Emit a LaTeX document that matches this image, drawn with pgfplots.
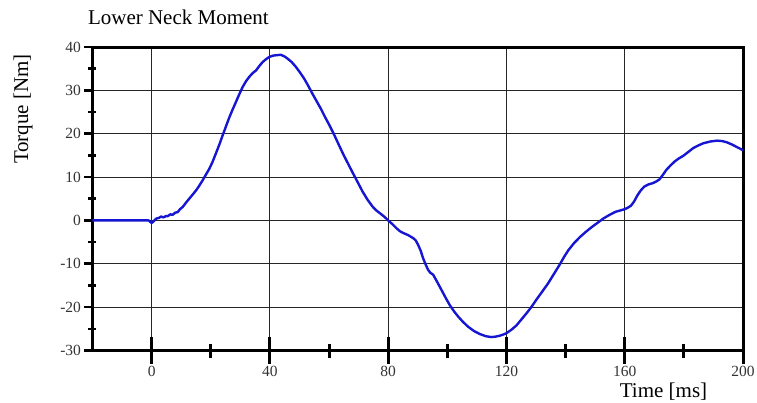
\documentclass[border=0pt]{standalone}
\usepackage{fontspec}
\setmainfont{Liberation Serif}
\usepackage{pgfplots}
\pgfplotsset{compat=1.18}
\definecolor{curve}{RGB}{22,22,210}
\newcommand{\tickfont}{\fontsize{15.5}{18}\selectfont}
\newcommand{\labelfont}{\fontsize{21}{24}\selectfont}
\begin{document}
\begin{tikzpicture}
\path[use as bounding box] (-92.5pt,-51.5pt) rectangle (664.5pt,350.5pt);
% main axis: frame, grid, y ticks, curve
\begin{axis}[
  at={(0,0)}, anchor=south west,
  scale only axis, width=650.5pt, height=303.5pt,
  xmin=-20, xmax=200, ymin=-30, ymax=40,
  xtick={0,40,...,200}, ytick={-30,-20,...,40},
  minor y tick num=1,
  grid=major,
  major grid style={draw=black!85, line width=1.1pt},
  axis line style={line width=3pt},
  x tick style={draw=none},
  xticklabels={},
  ytick pos=left,
  tick align=outside,
  major tick length=8pt, minor tick length=8pt,
  y tick style={line width=2.6pt, black},
  minor y tick style={xshift=4pt},
  /pgf/number format/assume math mode=true,
  yticklabel style={font=\tickfont, text=black!80},
  title={Lower Neck Moment},
  title style={font=\labelfont, at={(axis description cs:0,1)}, anchor=base west, xshift=-8pt, yshift=17pt},
  ylabel={Torque [Nm]},
  ylabel style={font=\labelfont, at={(axis description cs:-0.1068,0.7957)}, anchor=center},
  xlabel={Time [ms]},
  xlabel style={font=\labelfont, at={(axis description cs:0.8778,0)}, anchor=base, yshift=-47pt},
]
\addplot[curve, line width=2.4pt, line join=round] coordinates {
(-20,0) (-10,0) (-1,0) (0,-0.6) (0.5,-0.3) (1.5,0.4) (2.5,0.6) (3.2,0.9) (4,0.7)
(4.8,1.0) (5.5,1.0) (6.3,1.4) (7.1,1.3) (8,1.8) (8.8,1.9) (9.6,2.6) (10.5,3.1)
(11.5,4.0) (12.7,5.0) (13.8,5.9) (15,6.9) (16,7.9) (17.2,9.2) (18.3,10.5)
(19.5,11.9) (20.6,13.5) (21.7,15.4) (22.9,17.5) (24,19.6) (25.2,21.8) (26.3,23.8)
(27.4,25.6) (28.5,27.3) (29.7,29.2) (30.8,30.8) (32,32.2) (33,33.1) (34.2,34.0)
(35.3,34.6) (36.4,35.6) (37.5,36.5) (38.7,37.2) (39.8,37.7) (41,38.0) (42,38.1)
(43.7,38.2) (45,37.8) (46,37.3) (47.4,36.5) (48.8,35.4) (50.2,34.1) (51.6,32.7)
(53,31.0) (54.4,29.2) (55.8,27.5) (57.2,25.8) (58.6,23.9) (60.1,22.0) (61.7,19.8)
(63.4,17.3) (65,15.0) (66.5,13.0) (68,11) (69.7,8.8) (71.3,6.7) (73,4.8)
(74.7,3.2) (76,2.3) (77.5,1.5) (78.8,0.8) (80,0) (81.5,-0.9) (82.8,-1.8) (84,-2.5)
(85.1,-2.9) (86.8,-3.4) (88.5,-4.1) (89.3,-4.6) (90.1,-5.6) (91,-7.0) (91.8,-8.7)
(92.7,-10.2) (93.5,-11.4) (94.3,-12.1) (95.2,-12.5) (96.5,-14.1) (98,-16)
(99.4,-17.8) (100.8,-19.5) (102.2,-20.9) (103.7,-22.2) (105.3,-23.4) (107,-24.5)
(109,-25.5) (111,-26.2) (113,-26.7) (114.9,-26.9) (116.3,-26.8) (117.7,-26.6)
(119,-26.3) (120,-26.0) (121.7,-25.2) (123.4,-24.2) (125.1,-22.8) (126.8,-21.4)
(128.5,-19.9) (130.1,-18.3) (132,-16.5) (134.1,-14.5) (136,-12.4) (138,-10.2)
(139.5,-8.4) (140.9,-6.9) (142.9,-5.2) (144.9,-3.8) (146.9,-2.6) (148.9,-1.5)
(150.9,-0.5) (152.9,0.5) (154.9,1.3) (156.9,2.0) (158.5,2.3) (160,2.6) (161.2,3.0)
(162.1,3.4) (163.2,4.4) (164.3,5.8) (165.4,6.9) (166.6,7.8) (168,8.3) (169.5,8.6)
(170.7,9.0) (171.8,9.5) (172.9,10.5) (174,11.6) (175.5,12.7) (176.9,13.6)
(178.3,14.3) (179.8,14.9) (181.5,15.8) (183.2,16.7) (184.9,17.3) (186.6,17.8)
(188.9,18.2) (191.2,18.4) (193,18.3) (194.6,18.0) (196.3,17.5) (198,16.9) (200,16.2)
};
\end{axis}
% overlay axis: x ticks that straddle the bottom line
\begin{axis}[
  at={(0,0)}, anchor=south west,
  scale only axis, width=650.5pt, height=303.5pt,
  xmin=-20, xmax=200, ymin=-30, ymax=40,
  axis y line=none,
  axis x line*=bottom,
  axis line style={draw=none},
  xtick={0,40,...,200},
  minor x tick num=1,
  tick align=center,
  major tick length=27pt, minor tick length=14pt,
  x tick style={line width=3pt, black},
  /pgf/number format/assume math mode=true,
  xticklabel style={font=\tickfont, text=black!80, yshift=-1pt, inner ysep=1pt},
]
\end{axis}
\end{tikzpicture}
\end{document}
